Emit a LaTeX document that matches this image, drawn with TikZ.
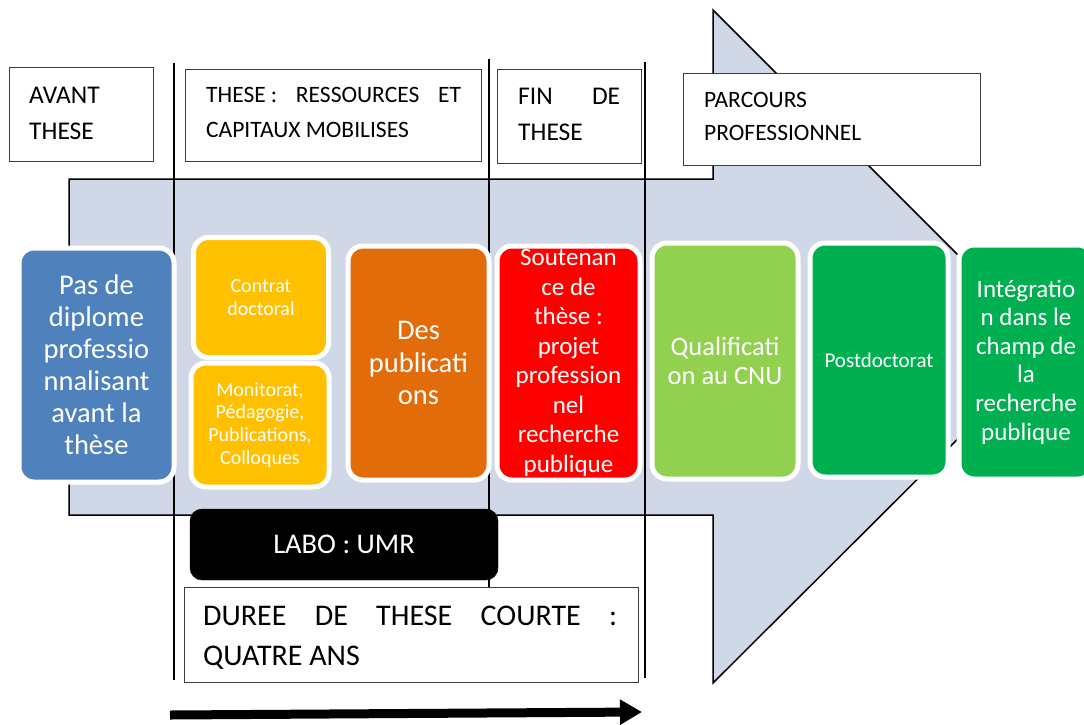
\documentclass[tikz,border=0pt]{standalone}
\usepackage{fontspec}
\setmainfont{Carlito}
\usetikzlibrary{arrows.meta}
\definecolor{bigarrow}{RGB}{208,216,232}
\definecolor{cblue}{RGB}{79,129,189}
\definecolor{cyellow}{RGB}{255,192,0}
\definecolor{corange}{RGB}{227,108,10}
\definecolor{cred}{RGB}{255,0,0}
\definecolor{clgreen}{RGB}{146,208,80}
\definecolor{cgreen}{RGB}{0,176,80}
\definecolor{hdrline}{RGB}{60,60,60}
\begin{document}
\begin{tikzpicture}[x=1pt,y=-1pt,
  hdr/.style={draw=hdrline, line width=1.2pt, fill=white, rectangle, inner sep=0pt, anchor=north west},
  card/.style={draw=white, line width=5pt, rounded corners=15pt, text=white, align=center, inner sep=0pt},
  sepline/.style={line width=1.4pt, black},
  lbl/.style={anchor=base west, inner sep=0pt, text=black}
]
\useasboundingbox (0,0) rectangle (1084,724);

% big arrow
\draw[line width=1.5pt, fill=bigarrow] (69,179) -- (713,179) -- (713,10) -- (1050,347) -- (713,683) -- (713,515) -- (69,515) -- cycle;

% vertical separators
\draw[sepline] (174,63) -- (174,680);
\draw[sepline] (489,59) -- (489,587);
\draw[sepline] (645,62) -- (645,678);

% header boxes
\node[hdr, minimum width=144pt, minimum height=94pt] (avant) at (9,67) {};
\node[hdr, minimum width=296pt, minimum height=92pt] (these) at (185,69) {};
\node[hdr, minimum width=144pt, minimum height=94pt] (fin) at (497,69) {};
\node[hdr, minimum width=297pt, minimum height=92pt] (parcours) at (683,73) {};

\node[lbl, font=\fontsize{25.5}{30}\selectfont] (avant1) at (29,103) {AVANT};
\node[lbl, font=\fontsize{25.5}{30}\selectfont] (avant2) at (29,139) {THESE};

\node[lbl, font=\fontsize{23.5}{28}\selectfont] (these1) at (206,102) {\makebox[255pt]{THESE\kern5pt:\hfill RESSOURCES\hfill ET}};
\node[lbl, font=\fontsize{23.5}{28}\selectfont] (these2) at (206,137) {CAPITAUX MOBILISES};

\node[lbl, font=\fontsize{25.5}{30}\selectfont] (fin1) at (518,104) {\makebox[102pt]{FIN\hfill DE}};
\node[lbl, font=\fontsize{25.5}{30}\selectfont] (fin2) at (518,140) {THESE};

\node[lbl, font=\fontsize{23.5}{28}\selectfont] (parc1) at (704,107) {PARCOURS};
\node[lbl, font=\fontsize{23.5}{28}\selectfont] (parc2) at (704,140) {PROFESSIONNEL};

% coloured cards
\node[card, fill=cblue, minimum width=155pt, minimum height=234pt, font=\fontsize{28.5}{32}\selectfont] (pas) at (96.5,365)
  {Pas de\\diplome\\professio\\nnalisant\\avant la\\thèse};
\node[card, fill=cyellow, minimum width=135pt, minimum height=120pt, font=\fontsize{20}{23}\selectfont] (contrat) at (261,297.5)
  {Contrat\\doctoral};
\node[card, fill=cyellow, minimum width=138pt, minimum height=124pt, font=\fontsize{20}{22.7}\selectfont] (monit) at (260,425)
  {Monitorat,\\Pédagogie,\\Publications,\\Colloques};
\node[card, fill=corange, minimum width=141pt, minimum height=234pt, font=\fontsize{28.5}{32.5}\selectfont] (pub) at (418.5,363)
  {Des\\publicati\\ons};
\node[card, fill=cred, minimum width=143pt, minimum height=234pt, font=\fontsize{25}{29.5}\selectfont] (sout) at (568.5,363)
  {Soutenan\\ce de\\thèse :\\projet\\profession\\nel\\recherche\\publique};
\node[card, fill=clgreen, minimum width=146pt, minimum height=236pt, font=\fontsize{26.5}{28.5}\selectfont] (qualif) at (725,361)
  {Qualificati\\on au CNU};
\node[card, fill=cgreen, minimum width=138pt, minimum height=234pt, font=\fontsize{21}{25}\selectfont] (postdoc) at (879,360)
  {Postdoctorat};
\node[card, fill=cgreen, minimum width=134pt, minimum height=234pt, font=\fontsize{25}{28.6}\selectfont] (integ) at (1026,362)
  {Intégratio\\n dans le\\champ de\\la\\recherche\\publique};

% LABO box
\node[fill=black, draw=black, rounded corners=12pt, minimum width=308pt, minimum height=71pt, inner sep=0pt, text=white,
  font=\fontsize{28.5}{32}\selectfont] (labo) at (344,544.5) {LABO : UMR};

% duration box
\node[hdr, minimum width=454pt, minimum height=95pt] (duree) at (184,587) {};
\node[lbl, font=\fontsize{30}{36}\selectfont] (duree1) at (203,625) {\makebox[414pt]{DUREE\hfill DE\hfill THESE\hfill COURTE\hfill :}};
\node[lbl, font=\fontsize{30}{36}\selectfont] (duree2) at (203,665) {QUATRE ANS};

% time arrow
\coordinate (ta) at (170,715);
\coordinate (tb) at (642,712);
\draw[line width=9pt, -{Triangle[length=22pt,width=24pt]}] (ta) -- (tb);
\end{tikzpicture}
\end{document}
